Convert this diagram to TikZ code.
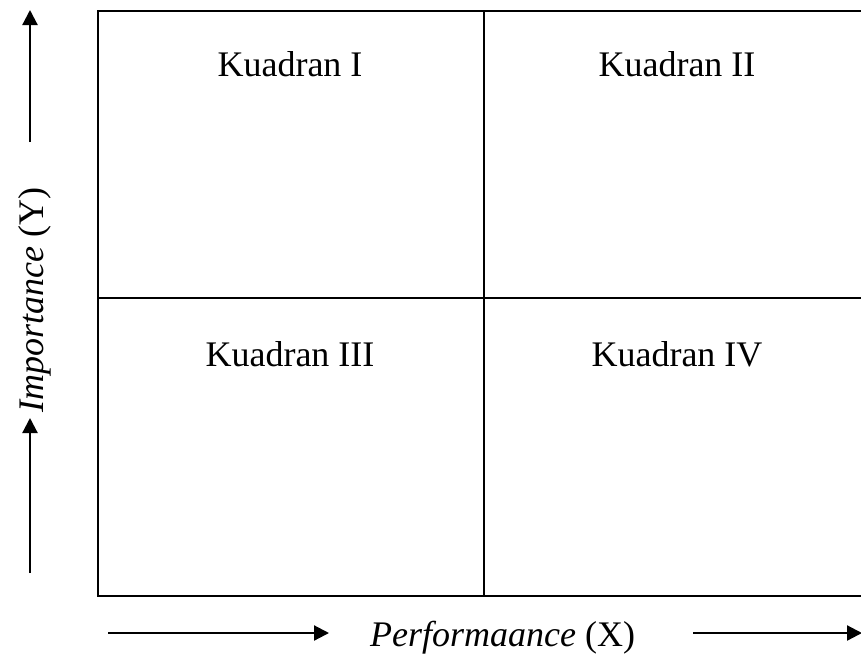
\documentclass[tikz,border=0pt]{standalone}
\usepackage{fontspec}
\setmainfont{Liberation Serif}
\usetikzlibrary{arrows.meta}
\begin{document}
\begin{tikzpicture}[x=1pt,y=-1pt,
  gridline/.style={line width=2.6pt},
  axisarrow/.style={line width=2.2pt,-{Triangle[length=15pt,width=15pt]}},
  lbl/.style={font=\fontsize{36}{43}\selectfont, anchor=base, inner sep=0pt}]
\useasboundingbox (0,0) rectangle (861,659);
\clip (0,0) rectangle (861,659);
\fill[white] (0,0) rectangle (861,659);
% grid
\draw[gridline] (98,11) rectangle (880,596);
\draw[gridline] (484,11) -- (484,596);
\draw[gridline] (98,298) -- (880,298);
% labels
\node[lbl] (q1) at (290,76) {Kuadran I};
\node[lbl] (q2) at (677,76) {Kuadran II};
\node[lbl] (q3) at (290,366) {Kuadran III};
\node[lbl] (q4) at (677,366) {Kuadran IV};
% axis labels
\node[lbl, anchor=base west] (xl) at (370,646) {\textit{Performaance} (X)};
\node[lbl, rotate=90] (yl) at (43,300) {\textit{Importance} (Y)};
% arrows
\coordinate (ua0) at (30,142); \coordinate (ua1) at (30,10);
\coordinate (la0) at (30,573); \coordinate (la1) at (30,418);
\coordinate (xa0) at (108,633); \coordinate (xa1) at (329,633);
\coordinate (xb0) at (693,633); \coordinate (xb1) at (862,633);
\draw[axisarrow] (ua0) -- (ua1);
\draw[axisarrow] (la0) -- (la1);
\draw[axisarrow] (xa0) -- (xa1);
\draw[axisarrow] (xb0) -- (xb1);
\end{tikzpicture}
\end{document}
